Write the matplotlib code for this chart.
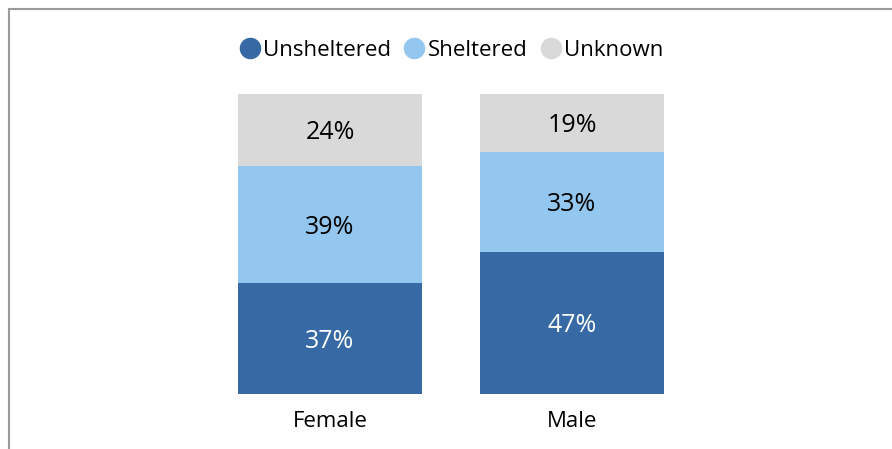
import numpy as np
import matplotlib
matplotlib.use("Agg")
import matplotlib.pyplot as plt
from matplotlib.lines import Line2D
from matplotlib.patches import Rectangle

plt.rcParams['font.family'] = ['Open Sans', 'DejaVu Sans']

genders = ["Female", "Male"]
series = ["Unsheltered", "Sheltered", "Unknown"]
unsheltered = [37, 47]
sheltered = [39, 33]
unknown = [24, 19]
colors = ["#376AA5", "#94C7EF", "#D9D9D9"]
text_colors = ["white", "black", "black"]

W, H = 892, 449
fig = plt.figure(figsize=(W / 100, H / 100), dpi=100)
ax = fig.add_axes([238 / W, (H - 394) / H, 426 / W, 300 / H])

data = np.array([unsheltered, sheltered, unknown], dtype=float)
# 100% stacked: each bar is scaled to its own total
shares = data / data.sum(axis=0) * 100

x = np.arange(len(genders))
bottom = np.zeros(len(genders))
for vals, shr, col, tcol in zip(data, shares, colors, text_colors):
    ax.bar(x, shr, width=0.76, bottom=bottom, color=col, edgecolor="none")
    for xi, b, s, v in zip(x, bottom, shr, vals):
        ax.annotate(f"{int(v)}%", (xi, b + s / 2), xytext=(0, -2),
                    textcoords="offset points", ha="center", va="center",
                    fontsize=18, color=tcol)
    bottom += shr

ax.set_xlim(-0.38, 1.38)
ax.set_ylim(0, 100)
ax.set_xticks(x)
ax.set_xticklabels(genders, fontsize=16)
ax.tick_params(axis="x", length=0, pad=12)
ax.set_yticks([])
for s in ax.spines.values():
    s.set_visible(False)

# legend with round markers
handles = [Line2D([], [], marker="o", linestyle="none", markersize=14.5,
                  markerfacecolor=c, markeredgecolor=c) for c in colors]
fig.legend(handles, series, loc="center", bbox_to_anchor=(452 / W, 1 - 50 / H),
           ncol=3, frameon=False, fontsize=16, handlelength=0.8,
           handletextpad=0.2, columnspacing=0.65, borderaxespad=0)

# outer border, only left and top edges show in the crop
fig.patches.append(Rectangle((8.5 / W, -0.1), 1.2, 1 - 8.5 / H + 0.1,
                             transform=fig.transFigure, fill=False,
                             edgecolor="#9A9A9A", linewidth=1.5))

fig.savefig("out.png", dpi=100)
